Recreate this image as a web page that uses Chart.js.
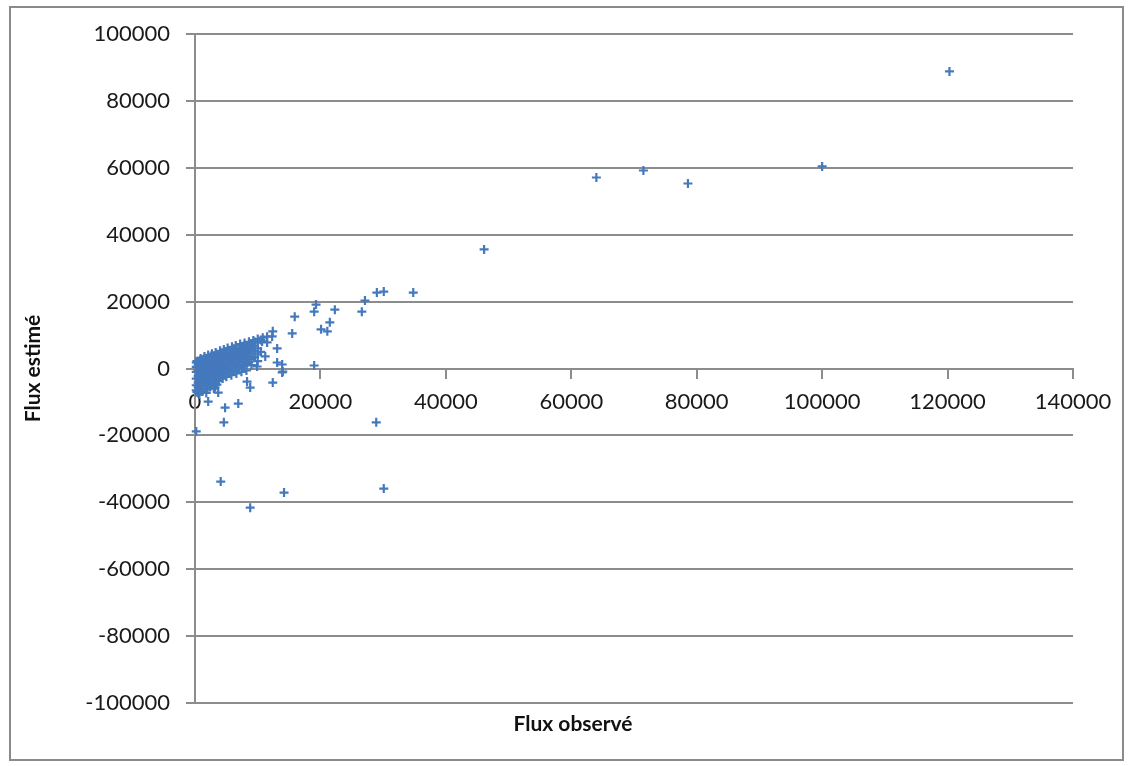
<!DOCTYPE html>
<html>
<head>
<meta charset="utf-8">
<script src="https://cdn.jsdelivr.net/npm/chart.js@4"></script>
<style>
  body { margin: 0; background: #fff; }
  canvas { display: block; }
</style>
</head>
<body>
<canvas id="fluxChart" width="1132" height="766"></canvas>
<script>
const fluxObserve = [
  200, 200, 200, 200, 200, 200,
  500, 500, 500, 500, 500, 500, 500,
  800, 800, 800, 800, 800, 800,
  1100, 1100, 1100, 1100, 1100, 1100,
  1400, 1400, 1400, 1400, 1400,
  1700, 1700, 1700, 1700, 1700, 1700,
  2000, 2000, 2000, 2000, 2000, 2000,
  2300, 2300, 2300, 2300, 2300,
  2600, 2600, 2600, 2600, 2600, 2600,
  2900, 2900, 2900, 2900, 2900,
  3200, 3200, 3200, 3200, 3200, 3200,
  3500, 3500, 3500, 3500, 3500,
  3800, 3800, 3800, 3800, 3800,
  4100, 4100, 4100, 4100, 4100,
  4400, 4400, 4400, 4400, 4400,
  4700, 4700, 4700, 4700, 4700,
  5000, 5000, 5000, 5000, 5000,
  5400, 5400, 5400, 5400, 5400,
  5800, 5800, 5800, 5800, 5800,
  6200, 6200, 6200, 6200, 6200,
  6600, 6600, 6600, 6600, 6600,
  7000, 7000, 7000, 7000, 7000,
  7400, 7400, 7400, 7400, 7400,
  7800, 7800, 7800, 7800, 7800,
  8200, 8200, 8200, 8200, 8200,
  8600, 8600, 8600, 8600,
  9000, 9000, 9000, 9000, 9000,
  9500, 9500, 9500, 9500,
  10000, 10000, 10000, 10000,
  10500, 10500,
  // upper edge of the dense band
  300, 900, 1500, 2100, 2700, 3300, 4000, 4600, 5200, 5900,
  6500, 7200, 7900, 8600, 9300, 10000, 10800, 11500,
  // lower edge of the dense band
  300, 1300, 2400, 3000, 1800, 700,
  // scattered points
  10700, 8800, 11500, 11200, 9900, 12300, 12400, 13100, 13100, 14000,
  13900, 12400, 8300, 8800, 3700, 3500, 2100, 4800, 6900, 4600,
  28900, 200, 4100, 14200, 8800, 30100,
  13900, 19000, 15500, 15900, 20100, 21100, 21500, 19000, 19300, 22300,
  26600, 27100, 29000, 30100, 34800, 46100, 64000, 71500, 78600, 100000, 120300
];
const fluxEstime = [
  -6500, -5000, -3000, -1000, 500, 1800,
  -7200, -5600, -4200, -2200, -400, 1200, 2200,
  -6000, -3500, -1500, 0, 1600, 2500,
  -6800, -4800, -2800, -900, 800, 2000,
  -3800, -2000, -300, 1300, 2800,
  -5200, -3200, -1200, 400, 1900, 3100,
  -6200, -4300, -2500, -700, 900, 2400,
  -3600, -1600, 0, 1600, 3300,
  -4800, -2800, -900, 700, 2300, 3700,
  -3900, -1900, -200, 1400, 3000,
  -5600, -3300, -1300, 500, 2100, 3800,
  -2600, -800, 1000, 2700, 4200,
  -3800, -1800, 200, 1700, 3300,
  -2200, -400, 1300, 2900, 4500,
  -3000, -1000, 700, 2300, 4000,
  -1600, 200, 1800, 3400, 5000,
  -2500, -600, 1200, 2800, 4400,
  -1200, 700, 2300, 3900, 5300,
  -2000, 0, 1700, 3300, 4800,
  -800, 1100, 2700, 4300, 5700,
  -1500, 500, 2100, 3700, 5200,
  300, 1900, 3500, 5000, 6200,
  -1000, 1100, 2800, 4400, 5800,
  700, 2400, 4000, 5500, 6800,
  -600, 1500, 3300, 4900, 6300,
  2000, 3800, 5400, 7000,
  1000, 2800, 4500, 6100, 7500,
  3400, 5200, 6800, 8000,
  2200, 4200, 6000, 7700,
  5000, 8500,
  2200, 3000, 3600, 4000, 4400, 4800, 5300, 5700, 6100, 6500,
  6900, 7300, 7600, 8000, 8400, 8800, 9200, 9500,
  -7000, -6000, -5500, -6000, -7300, -7800,
  8100, 6600, 7800, 3600, 600, 9600, 11100, 6000, 1800, -900,
  -1200, -4200, -3900, -5700, -7200, -4800, -9900, -11700, -10500, -16100,
  -16100, -18800, -33800, -37100, -41600, -35900,
  1200, 900, 10500, 15500, 11700, 11100, 13800, 17000, 19100, 17600,
  17000, 20300, 22700, 23000, 22700, 35600, 57100, 59200, 55300, 60400, 88800
];
const xTicks = [0, 20000, 40000, 60000, 80000, 100000, 120000, 140000];
const yTicks = [-100000, -80000, -60000, -40000, -20000, 0, 20000, 40000, 60000, 80000, 100000];

const gridGray = '#8c8c8c';
const labelFont = { family: 'Lato', size: 22 };

// frame round the whole chart + x title under the plot
const framePlugin = {
  id: 'frame',
  beforeDraw(chart) {
    const ctx = chart.ctx;
    ctx.save();
    ctx.fillStyle = '#fff';
    ctx.fillRect(0, 0, chart.width, chart.height);
    ctx.strokeStyle = '#8a8a8a';
    ctx.lineWidth = 2;
    ctx.strokeRect(10, 7, chart.width - 19, chart.height - 13);
    ctx.restore();
  },
  afterDraw(chart) {
    const ctx = chart.ctx;
    ctx.save();
    ctx.font = 'bold 21px Lato';
    ctx.fillStyle = '#111';
    ctx.textAlign = 'center';
    ctx.textBaseline = 'middle';
    ctx.fillText('Flux observé', 573, 724);
    ctx.restore();
  }
};

const points = fluxObserve.map((x, i) => ({ x: x, y: fluxEstime[i] }));

new Chart(document.getElementById('fluxChart'), {
  type: 'scatter',
  data: {
    datasets: [{
      data: points,
      pointStyle: 'cross',
      pointRadius: 4.5,
      borderWidth: 2.2,
      borderColor: '#4579bd',
      backgroundColor: '#4579bd',
      clip: false
    }]
  },
  options: {
    responsive: false,
    animation: false,
    layout: { padding: { left: 0, top: 34, right: 59, bottom: 63 } },
    plugins: { legend: { display: false }, tooltip: { enabled: false } },
    scales: {
      x: {
        type: 'linear',
        position: { y: 0 },
        min: xTicks[0],
        max: xTicks[xTicks.length - 1],
        afterBuildTicks: s => { s.ticks = xTicks.map(v => ({ value: v })); },
        ticks: { font: labelFont, color: '#1a1a1a', padding: 11, maxRotation: 0, callback: v => String(v) },
        grid: { drawOnChartArea: false, drawTicks: true, tickLength: 9, color: gridGray, lineWidth: 2 },
        border: { color: gridGray, width: 2 }
      },
      y: {
        type: 'linear',
        min: yTicks[0],
        max: yTicks[yTicks.length - 1],
        afterBuildTicks: s => { s.ticks = yTicks.map(v => ({ value: v })); },
        afterFit: s => { s.width = 195; },
        ticks: { font: labelFont, color: '#1a1a1a', padding: 16, callback: v => String(v) },
        grid: { color: gridGray, lineWidth: 2, tickLength: 9 },
        border: { color: gridGray, width: 2 },
        title: {
          display: true,
          text: 'Flux estimé',
          color: '#111',
          font: { family: 'Lato', size: 21, weight: 'bold' },
          padding: { top: 21, bottom: 0 }
        }
      }
    }
  },
  plugins: [framePlugin]
});
</script>
</body>
</html>
